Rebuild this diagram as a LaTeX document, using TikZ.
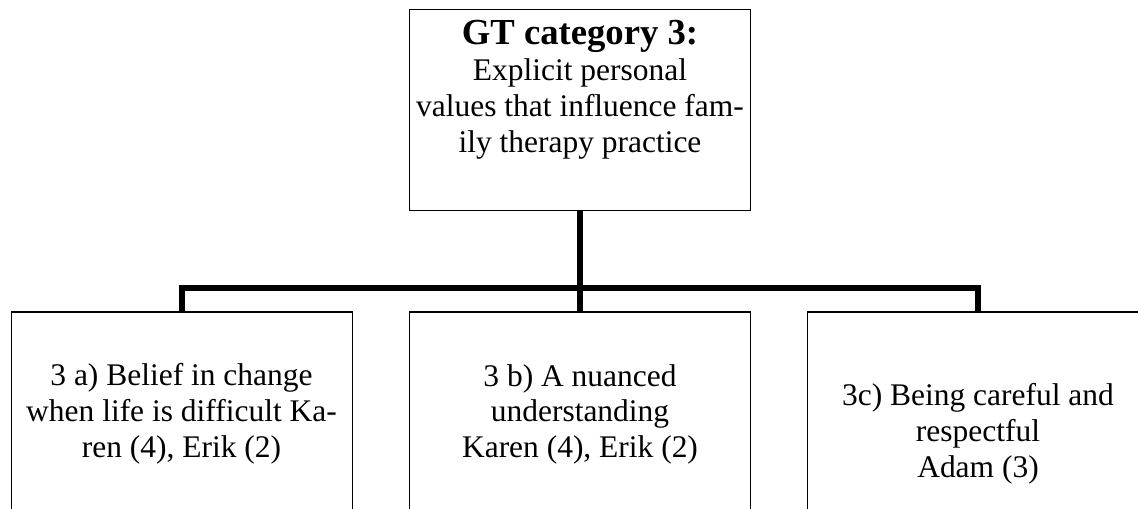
\documentclass[tikz,border=0pt]{standalone}
\usepackage{fontspec}
\setmainfont{Liberation Serif}
\begin{document}
\begin{tikzpicture}[x=0.75pt,y=-0.75pt,
  box/.style={draw=black, line width=1.2pt, rectangle, anchor=north west,
    inner sep=0pt, outer sep=0pt, minimum width=255.75pt},
  boxtext/.style={anchor=base, inner sep=0pt, outer sep=0pt,
    font=\fontsize{23.6}{27}\selectfont},
  link/.style={draw=black, line width=4.5pt, line join=miter}]
\useasboundingbox (0,0) rectangle (1138,509);
\clip (0,0) rectangle (1138,509);

% category box
\node[box, minimum height=150.75pt] (top) at (409.5,9.5) {};
\node[boxtext] (topText) at (580,45) {\begin{tabular}[t]{@{}c@{}}
  {\fontsize{27.5}{27}\selectfont\bfseries GT category 3:}\\
  Explicit personal\\
  values that influence fam-\\
  ily therapy practice
\end{tabular}};

% sub-category boxes (continue past the lower and right edges)
\node[box, minimum height=225pt] (a) at (11.5,312) {};
\node[box, minimum height=225pt] (b) at (409.5,312) {};
\node[box, minimum height=225pt] (c) at (807.5,312) {};

\node[boxtext] (aText) at (181.5,385) {\begin{tabular}[t]{@{}c@{}}
  3 a) Belief in change\\
  when life is difficult Ka-\\
  ren (4), Erik (2)
\end{tabular}};
\node[boxtext] (bText) at (580,386) {\begin{tabular}[t]{@{}c@{}}
  3 b) A nuanced\\
  understanding\\
  Karen (4), Erik (2)
\end{tabular}};
\node[boxtext] (cText) at (978,405) {\begin{tabular}[t]{@{}c@{}}
  3c) Being careful and\\
  respectful\\
  Adam (3)
\end{tabular}};

% tree connectors
\coordinate (hub) at (580,288);
\draw[link] (a.north) |- (hub) -| (c.north);
\draw[link] (top.south) -- (b.north);
\end{tikzpicture}
\end{document}
